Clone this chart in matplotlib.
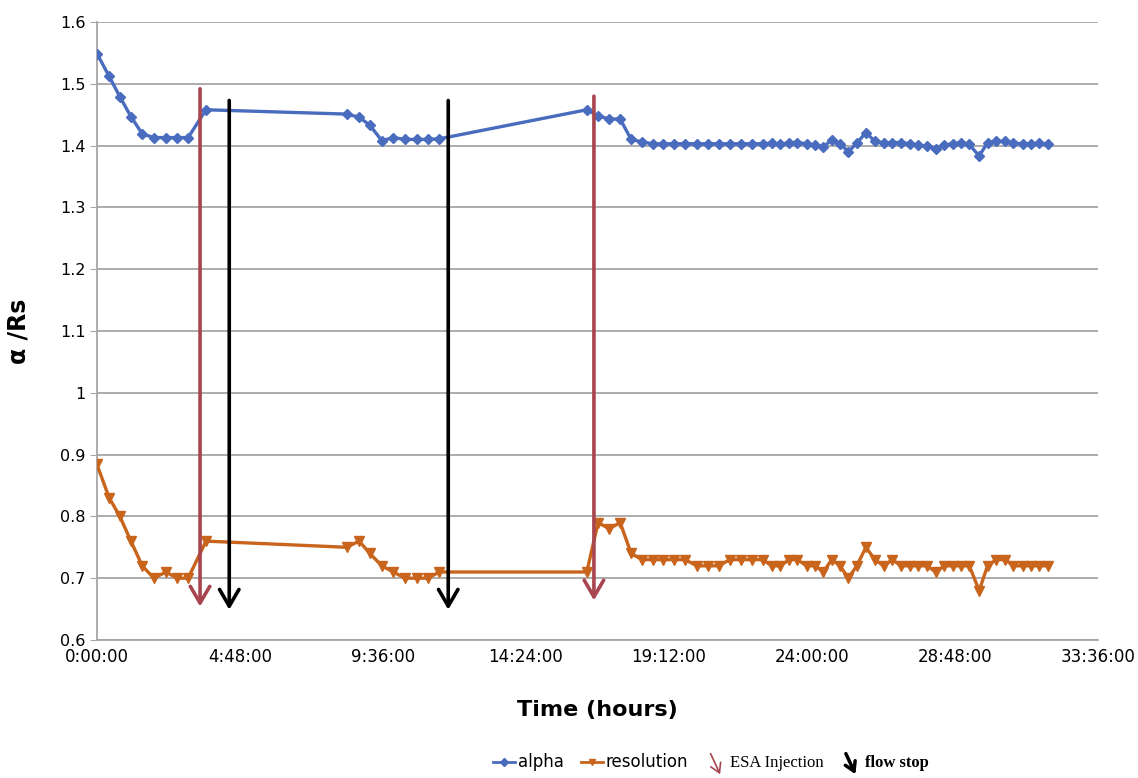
import matplotlib
matplotlib.use('Agg')
import matplotlib.pyplot as plt
import matplotlib.patches as mpatches
from matplotlib.lines import Line2D
from matplotlib.legend_handler import HandlerPatch
from matplotlib.ticker import FuncFormatter, MultipleLocator

# time of each measurement, hours after start
hours = [0.0, 0.41, 0.77, 1.14, 1.52, 1.91, 2.31, 2.69, 3.06, 3.66,
         8.38, 8.80, 9.16, 9.56, 9.95, 10.34, 10.73, 11.10, 11.49,
         16.44, 16.82, 17.19, 17.56, 17.93, 18.29,
         18.65, 19.01, 19.38, 19.75, 20.13, 20.50, 20.87, 21.24, 21.61, 21.98,
         22.35, 22.65, 22.93, 23.24, 23.51, 23.82, 24.10, 24.38, 24.66, 24.94,
         25.22, 25.50, 25.81, 26.11, 26.41, 26.70, 26.98, 27.29, 27.57, 27.85,
         28.16, 28.44, 28.72, 29.00, 29.28, 29.61, 29.89, 30.18, 30.48, 30.76,
         31.07, 31.34, 31.63, 31.93]

alpha = [1.549, 1.512, 1.479, 1.447, 1.419, 1.413, 1.413, 1.413, 1.413, 1.458,
         1.451, 1.446, 1.433, 1.408, 1.413, 1.410, 1.410, 1.410, 1.411,
         1.458, 1.448, 1.443, 1.443, 1.410, 1.406,
         1.403, 1.403, 1.403, 1.403, 1.403, 1.403, 1.403, 1.403, 1.403, 1.403,
         1.403, 1.404, 1.402, 1.405, 1.405, 1.403, 1.401, 1.398, 1.409, 1.403,
         1.390, 1.404, 1.421, 1.407, 1.404, 1.405, 1.405, 1.403, 1.401, 1.399,
         1.395, 1.401, 1.403, 1.405, 1.402, 1.383, 1.405, 1.407, 1.407, 1.404,
         1.403, 1.403, 1.404, 1.402]

resolution = [0.884, 0.83, 0.80, 0.76, 0.72, 0.70, 0.71, 0.70, 0.70, 0.76,
              0.75, 0.76, 0.74, 0.72, 0.71, 0.70, 0.70, 0.70, 0.71,
              0.71, 0.79, 0.78, 0.79, 0.74, 0.73,
              0.73, 0.73, 0.73, 0.73, 0.72, 0.72, 0.72, 0.73, 0.73, 0.73,
              0.73, 0.72, 0.72, 0.73, 0.73, 0.72, 0.72, 0.71, 0.73, 0.72,
              0.70, 0.72, 0.75, 0.73, 0.72, 0.73, 0.72, 0.72, 0.72, 0.72,
              0.71, 0.72, 0.72, 0.72, 0.72, 0.68, 0.72, 0.73, 0.73, 0.72,
              0.72, 0.72, 0.72, 0.72]

esa_times = [3.46, 16.68]
stop_times = [4.44, 11.79]

blue = '#4a6cbf'
orange = '#c8641c'
esa_col = '#a8454f'
grid_col = '#a6a6a6'


def hms(x, pos):
    total = int(round(x * 3600))
    return '%d:%02d:%02d' % (total // 3600, (total % 3600) // 60, total % 60)


def ylab(v, pos):
    if abs(v - 1) < 1e-9:
        return '1'
    return '%.1f' % v


def arrow_icon(legend, orig_handle, xdescent, ydescent, width, height, fontsize):
    return mpatches.FancyArrowPatch((0.2 * width - xdescent, 1.4 * height - ydescent),
                                    (0.75 * width - xdescent, -0.8 * height - ydescent),
                                    arrowstyle='->,head_length=0.5,head_width=0.3',
                                    mutation_scale=13)


fig = plt.figure(figsize=(11.38, 7.78), dpi=100)
ax = fig.add_axes([0.0852, 0.1774, 0.8797, 0.7943])

ax.plot(hours, alpha, color=blue, lw=2.4, marker='D', ms=5, zorder=3)
ax.plot(hours, resolution, color=orange, lw=2.4, marker='v', ms=6.5, zorder=3)

for t in esa_times:
    top = 1.492 if t < 10 else 1.48
    bot = 0.654 if t < 10 else 0.664
    ax.annotate('', xy=(t, bot), xytext=(t, top),
                arrowprops=dict(arrowstyle='->,head_length=0.6,head_width=0.35',
                                color=esa_col, lw=2.6, mutation_scale=20,
                                shrinkA=0, shrinkB=0), zorder=4)
for t in stop_times:
    ax.annotate('', xy=(t, 0.649), xytext=(t, 1.473),
                arrowprops=dict(arrowstyle='->,head_length=0.6,head_width=0.35',
                                color='black', lw=2.6, mutation_scale=20,
                                shrinkA=0, shrinkB=0), zorder=4)

ax.set_xlim(0, 33.6)
ax.set_ylim(0.6, 1.6)
ax.xaxis.set_major_locator(MultipleLocator(4.8))
ax.xaxis.set_major_formatter(FuncFormatter(hms))
ax.yaxis.set_major_locator(MultipleLocator(0.1))
ax.yaxis.set_major_formatter(FuncFormatter(ylab))
ax.grid(axis='y', color=grid_col, lw=1.3)
ax.set_axisbelow(True)
for s in ['top', 'right']:
    ax.spines[s].set_visible(False)
for s in ['left', 'bottom']:
    ax.spines[s].set_color(grid_col)
    ax.spines[s].set_linewidth(1.3)
ax.tick_params(axis='y', length=5, color=grid_col, labelsize=11.5, pad=3)
ax.tick_params(axis='x', length=0, labelsize=12, pad=6)
# nudge y tick labels up a little, as in the original
for lbl in ax.get_yticklabels():
    lbl.set_verticalalignment('center_baseline')

ax.set_xlabel('Time (hours)', fontsize=16, fontweight='bold', labelpad=24)
ax.set_ylabel('\u03b1 /Rs', fontsize=17, fontweight='bold')
ax.yaxis.set_label_coords(-0.066, 0.5)

handles = [Line2D([], [], color=blue, lw=2, marker='D', ms=4),
           Line2D([], [], color=orange, lw=2, marker='v', ms=5),
           mpatches.Patch(edgecolor=esa_col, facecolor='none', lw=1.2),
           mpatches.Patch(edgecolor='black', facecolor='none', lw=2.5)]
labels = ['alpha', 'resolution', 'ESA Injection', 'flow stop']
leg = fig.legend(handles, labels, loc='center', bbox_to_anchor=(0.625, 0.02),
                 ncol=4, frameon=False, fontsize=12, handlelength=1.3,
                 handletextpad=0.2, columnspacing=1.0,
                 handler_map={mpatches.Patch: HandlerPatch(patch_func=arrow_icon)})
for txt in leg.get_texts()[2:]:
    txt.set_fontfamily('Liberation Serif')
leg.get_texts()[3].set_fontweight('bold')

fig.savefig('out.png', dpi=100)
